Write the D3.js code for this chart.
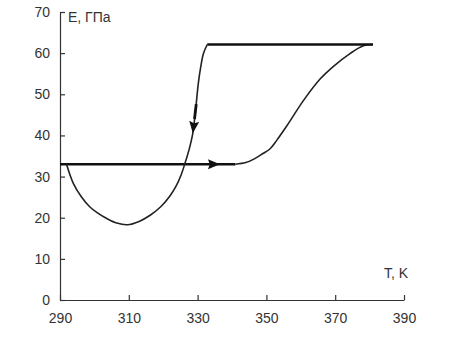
<!DOCTYPE html>
<html>
<head>
<meta charset="utf-8">
<title>E(T)</title>
<script src="https://cdnjs.cloudflare.com/ajax/libs/d3/7.6.1/d3.min.js"></script>
<style>
  html, body { margin: 0; padding: 0; background: #fff; }
  svg { display: block; font-family: Arial, "Liberation Sans", sans-serif; }
  .tick text { fill: #333; font-size: 14px; }
  .axis path, .axis line { stroke: #333; stroke-width: 1.2; }
</style>
</head>
<body>
<div id="chart"></div>
<script>
// tick labels
const xTicks = [290, 310, 330, 350, 370, 390];
const yTicks = [0, 10, 20, 30, 40, 50, 60, 70];

// heating: flat part, then the rising branch
const heatFlatT = [290, 341];
const heatFlatE = [33, 33];
const heatT = [341, 344, 346.5, 349, 351, 353, 356, 360.7, 365.6, 369.5, 374.3, 378.2, 380.8];
const heatE = [33, 33.4, 34.3, 35.6, 36.7, 38.8, 42.4, 48.4, 53.7, 56.8, 59.9, 61.8, 62.1];

// top plateau
const topT = [332.8, 381];
const topE = [62.1, 62.1];

// cooling branch going down and back to the start
const coolT = [332.8, 331.7, 330.9, 330.2, 329.5, 328.6, 327.6, 326.4, 325.2, 323.7, 321.8, 319.2, 316.2, 313, 309.6, 306.5, 303.6, 301, 298.7, 296.2, 293.9, 291.9];
const coolE = [62.1, 59.9, 56.6, 52.6, 46.9, 40.5, 36.8, 33.4, 30.4, 27.6, 25.1, 22.6, 20.6, 19.1, 18.3, 18.7, 19.8, 21.1, 22.6, 25.1, 28.3, 33];

// arrows: [tail, tip] in data units
const arrowH = [[333.3, 33], [336.5, 33]];
const arrowV = [[329.1, 44], [328.6, 40.5]];
const shaftT = [329.6, 329.1];
const shaftE = [47.6, 44];

const width = 449, height = 351;

const svg = d3.select("#chart")
  .append("svg")
  .attr("width", width)
  .attr("height", height);

svg.append("rect").attr("width", width).attr("height", height).attr("fill", "#fff");

const x = d3.scaleLinear().domain([290, 390]).range([60, 404]);
const y = d3.scaleLinear().domain([0, 70]).range([300, 12]);

svg.append("g")
  .attr("class", "axis")
  .attr("transform", "translate(0," + y(0) + ")")
  .call(d3.axisBottom(x).tickValues(xTicks).tickSize(-5).tickSizeOuter(0).tickPadding(13));

svg.append("g")
  .attr("class", "axis")
  .attr("transform", "translate(" + x(290) + ",0)")
  .call(d3.axisLeft(y).tickValues(yTicks).tickSize(-5).tickSizeOuter(0).tickPadding(10));

svg.selectAll(".axis .domain").attr("stroke", "#333");

// axis titles
svg.append("text")
  .attr("x", 68).attr("y", 22)
  .attr("fill", "#333").attr("font-size", 14)
  .text("E, ГПа");

svg.append("text")
  .attr("x", 384).attr("y", 278)
  .attr("fill", "#333").attr("font-size", 14)
  .text("T, K");

const zip = (ts, es) => ts.map((t, i) => [t, es[i]]);

const line = d3.line()
  .x(d => x(d[0]))
  .y(d => y(d[1]))
  .curve(d3.curveCatmullRom.alpha(0.5));

svg.append("path")
  .datum(zip(heatFlatT, heatFlatE))
  .attr("d", line)
  .attr("fill", "none").attr("stroke", "#111").attr("stroke-width", 2.6);

svg.append("path")
  .datum(zip(heatT, heatE))
  .attr("d", line)
  .attr("fill", "none").attr("stroke", "#222").attr("stroke-width", 1.6);

svg.append("path")
  .datum(zip(topT, topE))
  .attr("d", line)
  .attr("fill", "none").attr("stroke", "#111").attr("stroke-width", 2.4);

svg.append("path")
  .datum(zip(coolT, coolE))
  .attr("d", line)
  .attr("fill", "none").attr("stroke", "#222").attr("stroke-width", 1.6);

svg.append("path")
  .datum(zip(shaftT, shaftE))
  .attr("d", line)
  .attr("fill", "none").attr("stroke", "#111").attr("stroke-width", 2.8);

// arrow heads drawn from tail->tip direction in pixel space
function arrowHead(seg, len, half) {
  const x0 = x(seg[0][0]), y0 = y(seg[0][1]);
  const x1 = x(seg[1][0]), y1 = y(seg[1][1]);
  const a = Math.atan2(y1 - y0, x1 - x0);
  const bx = x1 - len * Math.cos(a), by = y1 - len * Math.sin(a);
  const nx = -Math.sin(a) * half, ny = Math.cos(a) * half;
  const mx = x1 - len * 0.85 * Math.cos(a), my = y1 - len * 0.85 * Math.sin(a);
  return `M${x1},${y1}L${bx + nx},${by + ny}L${mx},${my}L${bx - nx},${by - ny}Z`;
}

svg.append("path")
  .attr("d", arrowHead(arrowH, 12, 5))
  .attr("fill", "#111");

svg.append("path")
  .attr("d", arrowHead(arrowV, 12, 5))
  .attr("fill", "#111");
</script>
</body>
</html>
